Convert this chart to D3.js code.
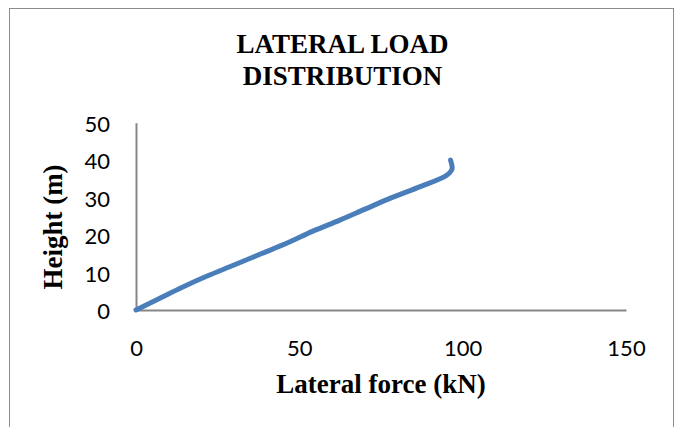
<!DOCTYPE html>
<html>
<head>
<meta charset="utf-8">
<script src="https://cdn.jsdelivr.net/npm/d3@7/dist/d3.min.js"></script>
<style>
  html, body { margin: 0; padding: 0; background: #fff; }
  svg { display: block; }
</style>
</head>
<body>
<svg id="chart" width="679" height="427"></svg>
<script>
// ---- data ----
const heights = [0, 3, 6, 9, 12, 15, 18, 21, 24, 27, 30, 33, 36, 38, 40];
const forces  = [0, 7, 14, 21.6, 30, 38.3, 46.6, 54, 62.4, 70.3, 78.3, 87.2, 95.1, 96.8, 96.3];
const xTicks = [0, 50, 100, 150];
const yTicks = [0, 10, 20, 30, 40, 50];
const titleLines = ["LATERAL LOAD", "DISTRIBUTION"];
const xTitle = "Lateral force (kN)";
const yTitle = "Height (m)";

const svg = d3.select("#chart");

// outer frame
svg.append("rect")
  .attr("x", 9.5).attr("y", 8.5)
  .attr("width", 664).attr("height", 430)
  .attr("fill", "none").attr("stroke", "#8c8c8c").attr("stroke-width", 1);

const x = d3.scaleLinear().domain([0, 150]).range([136, 626]);
const y = d3.scaleLinear().domain([0, 50]).range([310, 122.7]);

const serif = "'Liberation Serif', 'Times New Roman', serif";

// title
svg.append("text")
  .attr("text-anchor", "middle")
  .attr("font-family", serif)
  .attr("font-weight", "bold").attr("font-size", 27)
  .attr("fill", "#000")
  .selectAll("tspan").data(titleLines).join("tspan")
  .attr("x", 342.5)
  .attr("y", (d, i) => 53 + i * 32)
  .text(d => d);

// axes
const xAxis = d3.axisBottom(x).tickValues(xTicks).tickSize(0).tickPadding(0).tickFormat(d3.format("d"));
const yAxis = d3.axisLeft(y).tickValues(yTicks).tickSize(0).tickPadding(0).tickFormat(d3.format("d"));

const gx = svg.append("g").attr("transform", `translate(0,${y(0)})`).call(xAxis);
const gy = svg.append("g").attr("transform", `translate(${x(0)},0)`).call(yAxis);

[gx, gy].forEach(g => {
  g.select(".domain").attr("stroke", "#868686").attr("stroke-width", 2);
  g.selectAll("text")
    .attr("font-family", "Lato, 'Open Sans', sans-serif")
    .attr("font-size", 22)
    .attr("fill", "#000");
});
gx.selectAll("text").attr("dy", null).attr("y", 46);
gy.selectAll("text").attr("dy", "0.35em").attr("x", -26).attr("text-anchor", "end");
gy.selectAll(".tick").attr("transform", d => `translate(0,${y(d) + 1.5})`);

// axis titles
svg.append("text")
  .attr("x", 381).attr("y", 393)
  .attr("text-anchor", "middle")
  .attr("font-family", serif)
  .attr("font-weight", "bold").attr("font-size", 27)
  .text(xTitle);

svg.append("text")
  .attr("transform", "translate(62,227) rotate(-90)")
  .attr("text-anchor", "middle")
  .attr("font-family", serif)
  .attr("font-weight", "bold").attr("font-size", 27)
  .text(yTitle);

// series line
const data = heights.map((h, i) => ({ h, f: forces[i] }));
const line = d3.line()
  .x(d => x(d.f))
  .y(d => y(d.h))
  .curve(d3.curveMonotoneY);

svg.append("path")
  .datum(data)
  .attr("d", line)
  .attr("fill", "none")
  .attr("stroke", "#4a7ebb")
  .attr("stroke-width", 5)
  .attr("stroke-linecap", "round")
  .attr("stroke-linejoin", "round");
</script>
</body>
</html>
